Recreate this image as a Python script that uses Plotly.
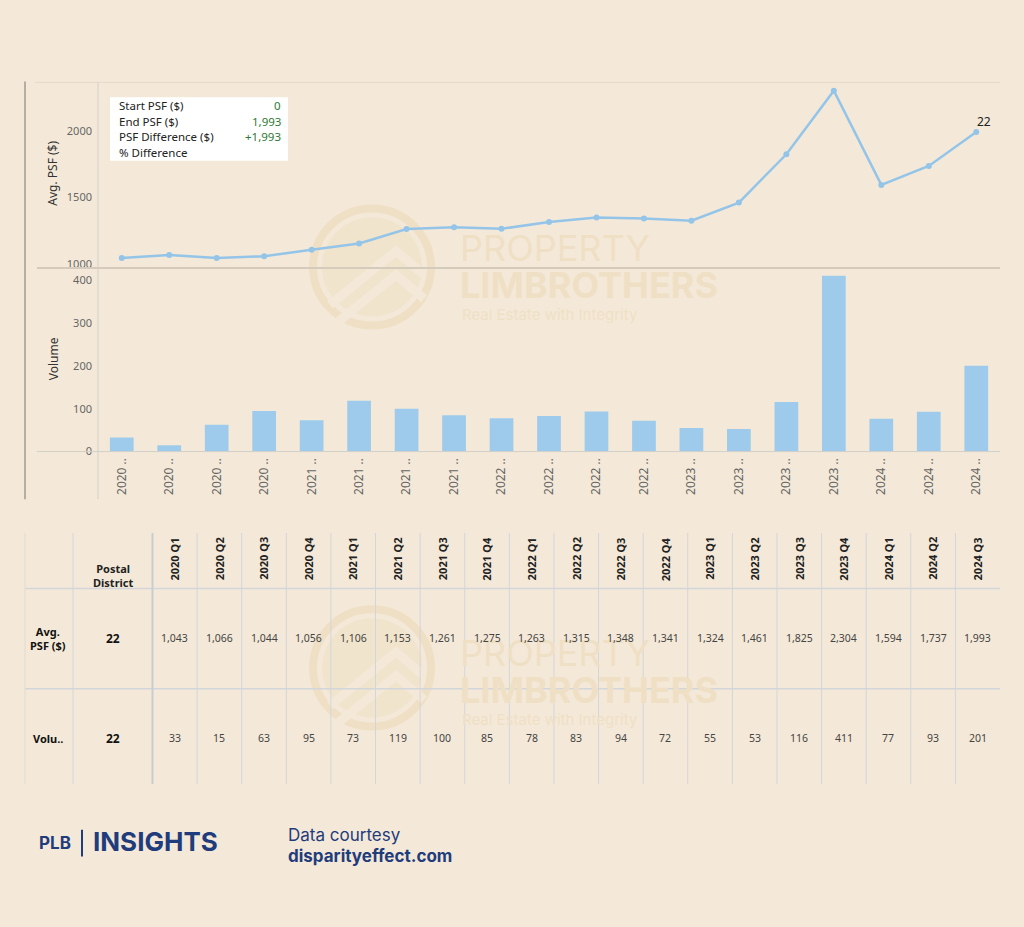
import plotly.graph_objects as go

# ---------------- data ----------------
quarters = ["2020 Q1", "2020 Q2", "2020 Q3", "2020 Q4",
            "2021 Q1", "2021 Q2", "2021 Q3", "2021 Q4",
            "2022 Q1", "2022 Q2", "2022 Q3", "2022 Q4",
            "2023 Q1", "2023 Q2", "2023 Q3", "2023 Q4",
            "2024 Q1", "2024 Q2", "2024 Q3"]
avg_psf = [1043, 1066, 1044, 1056, 1106, 1153, 1261, 1275, 1263, 1315,
           1348, 1341, 1324, 1461, 1825, 2304, 1594, 1737, 1993]
volume = [33, 15, 63, 95, 73, 119, 100, 85, 78, 83, 94, 72, 55, 53,
          116, 411, 77, 93, 201]
district = "22"
psf_ticks = [1000, 1500, 2000]
vol_ticks = [0, 100, 200, 300, 400]
summary_labels = ["Start PSF ($)", "End PSF ($)", "PSF Difference ($)", "% Difference"]
summary_values = ["0", "1,993", "+1,993", ""]

# ---------------- helpers (pixel -> paper) ----------------
W, H = 1024, 927
def X(p): return p / W
def Y(p): return 1 - p / H

BG = "#F4E9D8"
BLUE_LINE = "#94C5E9"
BLUE_BAR = "#9ECBEB"
NAVY = "#1F3C7C"
WM = "#EFE0C5"
WM_FILL = "#F1E4CC"
FONT = "Noto Sans"

fig = go.Figure()

fig.add_trace(go.Scatter(
    x=quarters, y=avg_psf, xaxis="x", yaxis="y", mode="lines+markers",
    line=dict(color=BLUE_LINE, width=2.5), marker=dict(color=BLUE_LINE, size=6),
    hoverinfo="x+y", showlegend=False))
fig.add_trace(go.Bar(
    x=quarters, y=volume, xaxis="x2", yaxis="y2", marker=dict(color=BLUE_BAR, line_width=0),
    showlegend=False))

xdom = [X(98), X(1000)]
xr = [-0.5, len(quarters) - 0.5]
fig.update_layout(
    width=W, height=H, margin=dict(l=0, r=0, t=0, b=0),
    paper_bgcolor=BG, plot_bgcolor="rgba(0,0,0,0)",
    bargap=0.5,
    font=dict(family=FONT, color="#555"),
    xaxis=dict(domain=xdom, anchor="y", range=xr, showticklabels=False, showgrid=False,
               zeroline=False, showline=False, ticks="", type="category"),
    yaxis=dict(domain=[Y(270), Y(83)], anchor="x", range=[968, 2367],
               tickvals=psf_ticks, ticktext=[str(v) for v in psf_ticks],
               showgrid=False, zeroline=False, showline=False, ticks="",
               ticklabelstandoff=5, tickfont=dict(size=11, color="#666")),
    xaxis2=dict(domain=xdom, anchor="y2", range=xr, showgrid=False, zeroline=False,
                showline=False, ticks="", tickangle=-90, type="category",
                tickvals=quarters, ticktext=[q[:4] + " .." for q in quarters],
                ticklabelstandoff=3,
                tickfont=dict(size=12, color="#666")),
    yaxis2=dict(domain=[Y(455), Y(270)], anchor="x2", range=[0, 429.5],
                tickvals=vol_ticks, ticktext=[str(v) for v in vol_ticks],
                showgrid=False, zeroline=False, showline=False, ticks="",
                ticklabelstandoff=5, tickfont=dict(size=11, color="#666")),
)

shapes = []
def line(x0, y0, x1, y1, color, width=1, layer="above"):
    shapes.append(dict(type="line", xref="paper", yref="paper",
                       x0=X(x0), y0=Y(y0), x1=X(x1), y1=Y(y1),
                       line=dict(color=color, width=width), layer=layer))

# ---- watermark (shapes below data) ----
def watermark_shapes(cx, cy):
    r = 59
    shapes.append(dict(type="circle", xref="paper", yref="paper",
                       x0=X(cx - r), x1=X(cx + r), y0=Y(cy + r), y1=Y(cy - r),
                       line=dict(color=WM, width=8), fillcolor="rgba(0,0,0,0)", layer="below"))
    r2 = 50
    shapes.append(dict(type="circle", xref="paper", yref="paper",
                       x0=X(cx - r2), x1=X(cx + r2), y0=Y(cy + r2), y1=Y(cy - r2),
                       line=dict(width=0), fillcolor=WM_FILL, layer="below"))
    for dy in (0, 24):
        shapes.append(dict(type="path", xref="paper", yref="paper", layer="below",
                           path=(f"M {X(cx-42)},{Y(cy+38+dy)} L {X(cx+24)},{Y(cy-16+dy)} "
                                 f"L {X(cx+52)},{Y(cy+8+dy)}"),
                           line=dict(color=BG, width=9)))
watermark_shapes(372, 269)
watermark_shapes(372, 673)

# ---- chart frame lines ----
line(25, 82, 25, 503, "#A39A90", 1.5)
line(35, 83, 1000, 83, "#E2DACD", 1)
line(98, 83, 98, 503, "#D2CFCA", 1)
line(37, 270, 1000, 270, "#D4CBBD", 2)
line(37, 455, 1000, 455, "#D2CFCA", 1)

# ---- summary box ----
shapes.append(dict(type="rect", xref="paper", yref="paper",
                   x0=X(110), x1=X(288), y0=Y(162), y1=Y(98),
                   fillcolor="white", line=dict(width=0), layer="above"))

# ---- table lines ----
TCOL = "#D2D5DA"
col_left = 152.5
col_w = (1000 - col_left) / len(quarters)
line(25, 593, 1000, 593, TCOL, 1.5)
line(25, 694, 1000, 694, TCOL, 1.5)
line(25, 537, 25, 790, "#E0DBD2", 1)
line(73, 537, 73, 790, TCOL, 1)
line(col_left, 537, col_left, 790, "#C8CCD3", 2)
for k in range(1, len(quarters)):
    xx = col_left + k * col_w
    line(xx, 537, xx, 790, TCOL, 1)

# footer separator
line(82, 836, 82, 863, NAVY, 2)

fig.update_layout(shapes=shapes)

ann = []
def text(x, y, s, size=11, color="#444", bold=False, xanchor="center", yanchor="middle",
         angle=0, family=FONT):
    if bold:
        s = f"<b>{s}</b>"
    ann.append(dict(xref="paper", yref="paper", x=X(x), y=Y(y), text=s, showarrow=False,
                    xanchor=xanchor, yanchor=yanchor, textangle=angle,
                    font=dict(size=size, color=color, family=family)))

# watermark text
for dy in (0, 408):
    text(458, 250 + dy, "PROPERTY", size=36, color=WM, xanchor="left", family="Inter")
    text(458, 287 + dy, "LIMBROTHERS", size=36, color=WM, bold=True, xanchor="left", family="Inter")
    text(460, 317 + dy, "Real Estate with Integrity", size=15, color=WM, xanchor="left", family="Inter")

# axis titles
text(53, 175, "Avg. PSF ($)", size=12, color="#333", angle=-90)
text(53, 362, "Volume", size=12, color="#333", angle=-90)

# last-point label (placed at data coordinates)
ann.append(dict(xref="x", yref="y", x=quarters[-1], y=avg_psf[-1], text=district,
                showarrow=False, xanchor="left", yanchor="bottom", xshift=-1, yshift=0,
                font=dict(size=12, color="#222", family=FONT)))

# summary box text
for i, (lab, val) in enumerate(zip(summary_labels, summary_values)):
    yy = 106 + 16 * i
    text(117, yy, lab, size=11.5, color="#222", xanchor="left")
    if val:
        text(283, yy, val, size=11.5, color="#2E7A34", xanchor="right")

# table header
text(113, 580, "Postal<br>District", size=11, color="#222", bold=True)
for k, q in enumerate(quarters):
    cx = col_left + (k + 0.5) * col_w
    text(cx, 563, q, size=11, color="#222", bold=True, angle=-90)
    text(cx, 643, f"{avg_psf[k]:,}", size=10.5, color="#444")
    text(cx, 744, f"{volume[k]:,}", size=10.5, color="#444")

text(48, 643, "Avg.<br>PSF ($)", size=11, color="#111", bold=True)
text(113, 643, district, size=12, color="#111", bold=True)
text(48, 744, "Volu..", size=11, color="#111", bold=True)
text(113, 744, district, size=12, color="#111", bold=True)

# footer
text(37, 849, "PLB", size=17, color=NAVY, bold=True, xanchor="left", family="Inter")
text(91, 848, "INSIGHTS", size=26, color=NAVY, bold=True, xanchor="left", family="Inter")
text(286, 841, "Data courtesy", size=17, color=NAVY, xanchor="left", family="Inter")
text(286, 863, "<b>disparityeffect.com</b>", size=17, color=NAVY, xanchor="left", family="Inter")

fig.update_layout(annotations=ann)

fig.write_html("out.html", config={"displayModeBar": False},
               post_script="document.body.style.margin='0';")
